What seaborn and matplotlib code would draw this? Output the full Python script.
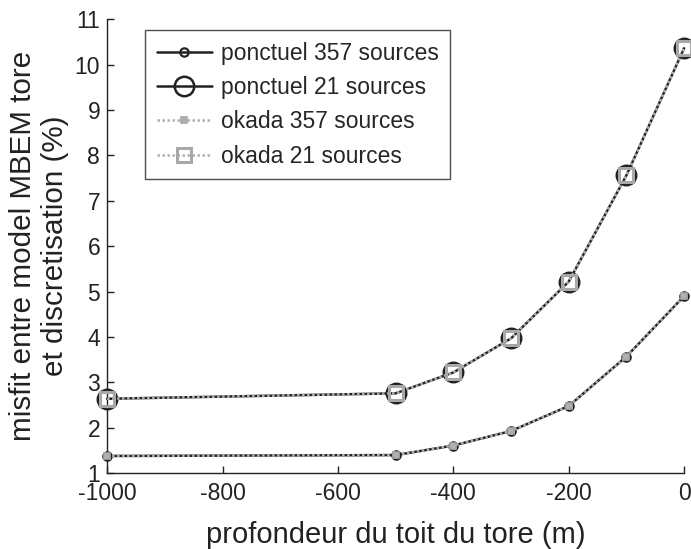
import matplotlib
matplotlib.use("Agg")
import matplotlib.pyplot as plt
import seaborn as sns
import pandas as pd

depth = [-1000, -500, -400, -300, -200, -100, 0]
ponctuel_357 = [1.38, 1.40, 1.61, 1.93, 2.48, 3.57, 4.90]
ponctuel_21 = [2.64, 2.76, 3.22, 3.97, 5.22, 7.56, 10.36]
okada_357 = [1.38, 1.40, 1.61, 1.93, 2.48, 3.57, 4.90]
okada_21 = [2.64, 2.76, 3.22, 3.97, 5.22, 7.56, 10.36]

sns.set_style("ticks")
plt.rcParams['font.family'] = ['Liberation Sans', 'DejaVu Sans']
plt.rcParams['axes.unicode_minus'] = False

fig = plt.figure(figsize=(6.91, 5.49), dpi=100)
ax = fig.add_axes([0.155, 0.138, 0.835, 0.827])

specs = [
    ("ponctuel 357 sources", ponctuel_357, dict(color="#222222", lw=1.8, ls="-", marker="o", ms=6, mfc="none", mec="#222222", mew=1.6)),
    ("ponctuel 21 sources", ponctuel_21, dict(color="#222222", lw=1.8, ls="-", marker="o", ms=14, mfc="none", mec="#222222", mew=1.8)),
    ("okada 357 sources", okada_357, dict(color="#b0b0b0", lw=1.8, ls=(0, (1, 1)), marker="s", ms=5, mfc="#b0b0b0", mec="#a8a8a8", mew=1.2)),
    ("okada 21 sources", okada_21, dict(color="#b0b0b0", lw=1.8, ls=(0, (1, 1)), marker="s", ms=10, mfc="none", mec="#a8a8a8", mew=2.2)),
]
for name, vals, kw in specs:
    d = pd.DataFrame({"x": depth, "y": vals})
    sns.lineplot(data=d, x="x", y="y", ax=ax, label=name, clip_on=False, zorder=3, **kw)

ax.set_xlim(-1000, 0)
ax.set_ylim(1, 11)
ax.set_xticks([-1000, -800, -600, -400, -200, 0])
ax.set_yticks(range(1, 12))
ax.tick_params(direction="in", labelsize=16.5, length=5, width=1, colors="#222222")
ax.tick_params(axis="x", pad=6)
ax.tick_params(axis="y", pad=5)
for s in ["top", "right"]:
    ax.spines[s].set_visible(False)
for s in ["left", "bottom"]:
    ax.spines[s].set_color("#222222")
    ax.spines[s].set_linewidth(1.0)
ax.set_xlabel("profondeur du toit du tore (m)", fontsize=21, color="#222222", labelpad=12)
ax.set_ylabel("misfit entre model MBEM tore\net discretisation (%)", fontsize=21.3, color="#222222", labelpad=4)

leg = ax.legend(loc="upper left", bbox_to_anchor=(0.066, 0.976), fontsize=16.5, frameon=True,
                fancybox=False, edgecolor="#222222", handlelength=2.4, handletextpad=0.4,
                borderpad=0.5, labelspacing=0.5, borderaxespad=0)
leg.get_frame().set_linewidth(1.0)

fig.savefig("out.png", dpi=100)
